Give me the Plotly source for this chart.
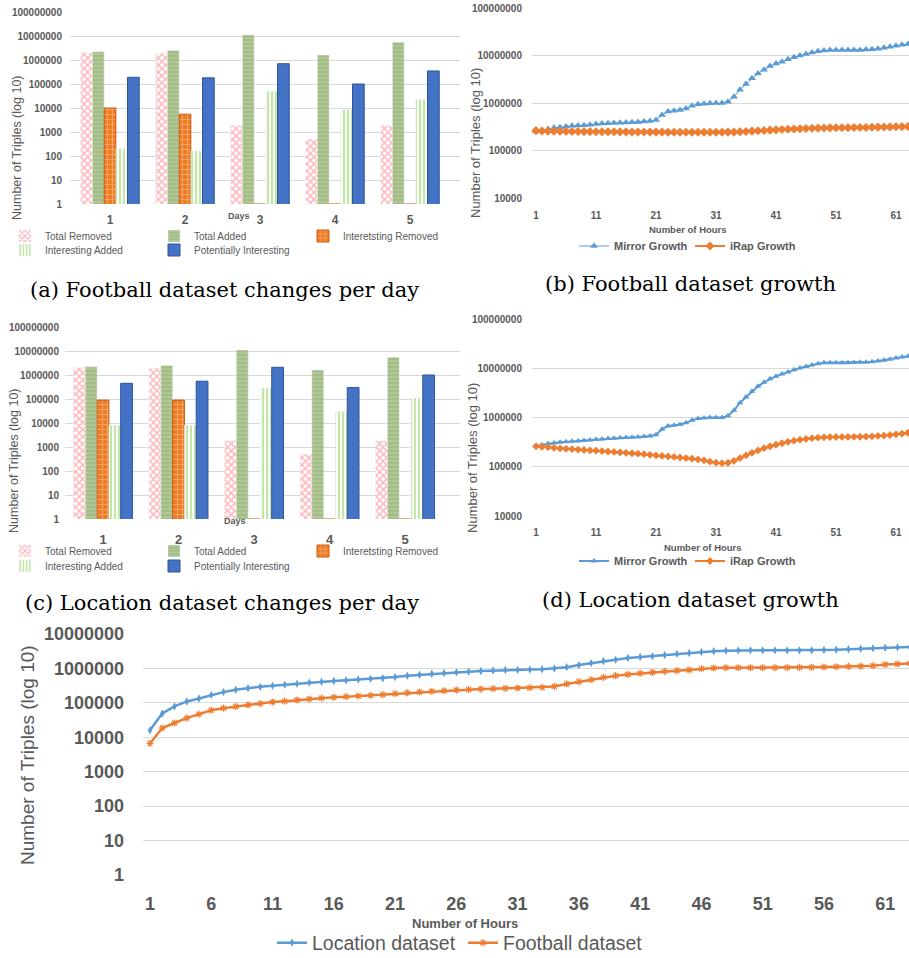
import plotly.graph_objects as go

W, H = 909, 958

def px(x):
    return x / W

def py(y):
    return 1 - y / H

# ---------------- data ----------------
days = [1, 2, 3, 4, 5]
bar_series = ["Total Removed", "Total Added", "Interetsting Removed", "Interesting Added", "Potentially Interesting"]

football_total_removed = [2000000, 1900000, 1800, 500, 1800]
football_total_added = [2200000, 2500000, 11000000, 1600000, 5500000]
football_interesting_removed = [10000, 5500, 1, 1, 1]
football_interesting_added = [200, 160, 50000, 8500, 22000]
football_potentially_interesting = [190000, 180000, 700000, 100000, 350000]

location_total_removed = [2000000, 1900000, 1800, 500, 1800]
location_total_added = [2200000, 2500000, 11000000, 1600000, 5500000]
location_interesting_removed = [90000, 90000, 1, 1, 1]
location_interesting_added = [8000, 8000, 280000, 30000, 110000]
location_potentially_interesting = [450000, 550000, 2100000, 300000, 1000000]

hours = list(range(1, 65))

football_mirror = [255e3, 270e3, 285e3, 300e3, 310e3, 320e3, 330e3, 335e3, 340e3, 350e3,
                   360e3, 370e3, 375e3, 380e3, 385e3, 390e3, 395e3, 400e3, 410e3, 420e3,
                   440e3, 560e3, 660e3, 690e3, 710e3, 770e3, 870e3, 940e3, 970e3, 990e3,
                   1.0e6, 1.0e6, 1.06e6, 1.35e6, 1.9e6, 2.5e6, 3.3e6, 4.2e6, 5.0e6, 6.0e6,
                   6.8e6, 7.4e6, 8.3e6, 9.2e6, 10.0e6, 10.8e6, 11.6e6, 12.3e6, 12.8e6, 13.0e6,
                   13.0e6, 13.0e6, 13.0e6, 13.0e6, 13.1e6, 13.3e6, 13.5e6, 13.8e6, 14.5e6, 15.2e6,
                   16.0e6, 16.8e6, 17.5e6, 18.2e6]
football_irap = [262e3, 258e3, 256e3, 255e3, 254e3, 253e3, 252e3, 251e3, 250e3, 250e3,
                 249e3, 249e3, 248e3, 248e3, 247e3, 247e3, 246e3, 246e3, 245e3, 245e3,
                 244e3, 244e3, 243e3, 243e3, 243e3, 242e3, 242e3, 242e3, 242e3, 242e3,
                 242e3, 243e3, 244e3, 246e3, 249e3, 252e3, 256e3, 260e3, 264e3, 268e3,
                 272e3, 276e3, 280e3, 284e3, 288e3, 291e3, 294e3, 296e3, 298e3, 300e3,
                 301e3, 302e3, 303e3, 304e3, 305e3, 306e3, 308e3, 310e3, 312e3, 314e3,
                 316e3, 318e3, 320e3, 322e3]

location_mirror = [265e3, 280e3, 295e3, 305e3, 315e3, 322e3, 330e3, 335e3, 342e3, 350e3,
                   360e3, 368e3, 375e3, 380e3, 386e3, 392e3, 398e3, 404e3, 412e3, 422e3,
                   445e3, 580e3, 670e3, 700e3, 720e3, 780e3, 880e3, 950e3, 980e3, 1.0e6,
                   1.0e6, 1.0e6, 1.08e6, 1.4e6, 2.0e6, 2.6e6, 3.4e6, 4.3e6, 5.2e6, 6.1e6,
                   6.9e6, 7.6e6, 8.4e6, 9.3e6, 10.1e6, 10.9e6, 11.7e6, 12.4e6, 12.9e6, 13.0e6,
                   13.0e6, 13.0e6, 13.0e6, 13.1e6, 13.2e6, 13.3e6, 13.6e6, 14.0e6, 14.6e6, 15.3e6,
                   16.1e6, 16.9e6, 17.6e6, 18.4e6]
location_irap = [260e3, 255e3, 250e3, 242e3, 236e3, 231e3, 227e3, 223e3, 219e3, 215e3,
                 212e3, 208e3, 204e3, 200e3, 196e3, 192e3, 188e3, 184e3, 180e3, 175e3,
                 170e3, 166e3, 162e3, 158e3, 154e3, 150e3, 146e3, 141e3, 135e3, 127e3,
                 121e3, 118e3, 120e3, 132e3, 150e3, 170e3, 192e3, 215e3, 238e3, 260e3,
                 280e3, 300e3, 320e3, 338e3, 355e3, 368e3, 380e3, 390e3, 396e3, 400e3,
                 402e3, 403e3, 404e3, 405e3, 407e3, 410e3, 415e3, 422e3, 430e3, 440e3,
                 455e3, 470e3, 490e3, 510e3]

location_dataset = [16e3, 49e3, 79e3, 110e3, 134e3, 170e3, 205e3, 240e3, 268e3, 292e3,
                    315e3, 338e3, 360e3, 388e3, 410e3, 432e3, 452e3, 475e3, 498e3, 520e3,
                    565e3, 615e3, 655e3, 700e3, 735e3, 770e3, 805e3, 840e3, 870e3, 900e3,
                    910e3, 925e3, 950e3, 1.0e6, 1.09e6, 1.25e6, 1.43e6, 1.64e6, 1.8e6, 2.0e6,
                    2.14e6, 2.25e6, 2.46e6, 2.65e6, 2.8e6, 3.0e6, 3.15e6, 3.28e6, 3.35e6, 3.35e6,
                    3.35e6, 3.35e6, 3.35e6, 3.35e6, 3.38e6, 3.42e6, 3.5e6, 3.6e6, 3.72e6, 3.85e6,
                    4.0e6, 4.1e6, 4.2e6, 4.3e6]
football_dataset = [6.6e3, 18.6e3, 26e3, 36e3, 47e3, 61e3, 70e3, 78e3, 87e3, 95e3,
                    106e3, 112e3, 121e3, 129e3, 137e3, 145e3, 151e3, 158e3, 165e3, 173e3,
                    185e3, 196e3, 207e3, 216e3, 225e3, 235e3, 243e3, 252e3, 258e3, 264e3,
                    270e3, 276e3, 282e3, 300e3, 355e3, 412e3, 470e3, 550e3, 615e3, 670e3,
                    720e3, 770e3, 820e3, 860e3, 905e3, 980e3, 1.03e6, 1.05e6, 1.05e6, 1.05e6,
                    1.05e6, 1.05e6, 1.06e6, 1.07e6, 1.08e6, 1.1e6, 1.12e6, 1.14e6, 1.16e6, 1.2e6,
                    1.3e6, 1.35e6, 1.4e6, 1.45e6]

log_ticks_bar = [1, 10, 100, 1000, 10000, 100000, 1000000, 10000000, 100000000]
log_labels_bar = ["1", "10", "100", "1000", "10000", "100000", "1000000", "10000000", "100000000"]
log_ticks_growth = [10000, 100000, 1000000, 10000000, 100000000]
log_labels_growth = ["10000", "100000", "1000000", "10000000", "100000000"]
log_ticks_total = [1, 10, 100, 1000, 10000, 100000, 1000000, 10000000]
log_labels_total = ["1", "10", "100", "1000", "10000", "100000", "1000000", "10000000"]
hour_ticks_small = [1, 11, 21, 31, 41, 51, 61]
hour_ticks_big = [1, 6, 11, 16, 21, 26, 31, 36, 41, 46, 51, 56, 61]

# ---------------- styles ----------------
GRAY = "#595959"
GRID = "#D9D9D9"
BLUE = "#5B9BD5"
ORANGE = "#ED7D31"
FONT = "Liberation Sans"
SERIF = "DejaVu Serif"

bar_styles = [
    dict(color="white", pattern=dict(shape="x", fgcolor="#FF6F7A", bgcolor="white", size=5, solidity=0.5)),
    dict(color="#A9C08C", pattern=dict(shape="-", fgcolor="#C9DAB2", bgcolor="#A3BC86", size=4, solidity=0.35)),
    dict(color="#ED7D31", pattern=dict(shape="+", fgcolor="#FBD5B5", bgcolor="#EE7A22", size=5, solidity=0.35),
         line=dict(color="#C55A11", width=1)),
    dict(color="white", pattern=dict(shape="|", fgcolor="#8CCB4E", bgcolor="white", size=4, solidity=0.55)),
    dict(color="#4472C4", line=dict(color="#2F5597", width=1)),
]

fig = go.Figure()

def add_bars(xa, ya, values, legends):
    for i, (name, vals) in enumerate(zip(bar_series, values)):
        fig.add_trace(go.Bar(
            x=days, y=vals, name=name, xaxis=xa, yaxis=ya,
            marker=bar_styles[i], legend=legends[0] if i < 3 else legends[1],
        ))

add_bars("x", "y", [football_total_removed, football_total_added, football_interesting_removed,
                    football_interesting_added, football_potentially_interesting], ["legend", "legend2"])
add_bars("x3", "y3", [location_total_removed, location_total_added, location_interesting_removed,
                      location_interesting_added, location_potentially_interesting], ["legend3", "legend4"])

# (b)
fig.add_trace(go.Scatter(x=hours, y=football_mirror, name="Mirror Growth", xaxis="x2", yaxis="y2",
                         mode="lines+markers", line=dict(color=BLUE, width=1),
                         marker=dict(symbol="triangle-up", size=7, color=BLUE), legend="legend5"))
fig.add_trace(go.Scatter(x=hours, y=football_irap, name="iRap Growth", xaxis="x2", yaxis="y2",
                         mode="lines+markers", line=dict(color=ORANGE, width=2),
                         marker=dict(symbol="diamond", size=7, color=ORANGE), legend="legend5"))
# (d)
fig.add_trace(go.Scatter(x=hours, y=location_mirror, name="Mirror Growth", xaxis="x4", yaxis="y4",
                         mode="lines+markers", line=dict(color=BLUE, width=2),
                         marker=dict(symbol="triangle-up", size=6, color=BLUE), legend="legend6"))
fig.add_trace(go.Scatter(x=hours, y=location_irap, name="iRap Growth", xaxis="x4", yaxis="y4",
                         mode="lines+markers", line=dict(color=ORANGE, width=2),
                         marker=dict(symbol="diamond", size=6, color=ORANGE), legend="legend6"))
# (e)
fig.add_trace(go.Scatter(x=hours, y=location_dataset, name="Location dataset", xaxis="x5", yaxis="y5",
                         mode="lines+markers", line=dict(color=BLUE, width=2.5),
                         marker=dict(symbol="diamond-tall", size=6, color=BLUE), legend="legend7"))
fig.add_trace(go.Scatter(x=hours, y=football_dataset, name="Football dataset", xaxis="x5", yaxis="y5",
                         mode="lines+markers", line=dict(color=ORANGE, width=2.5),
                         marker=dict(symbol="asterisk-open", size=6, color=ORANGE, line=dict(color=ORANGE, width=1.2)),
                         legend="legend7"))

def xax(dom, rng, tickvals, anchor, size, standoff):
    return dict(domain=dom, range=rng, tickvals=tickvals, anchor=anchor, showgrid=False,
                zeroline=False, showline=False, ticks="",
                tickfont=dict(family=FONT, size=size, color=GRAY, weight="bold"),
                ticklabelstandoff=standoff)

def yax(dom, rng, tickvals, ticktext, anchor, size, standoff):
    return dict(domain=dom, type="log", range=rng, tickvals=tickvals, ticktext=ticktext,
                anchor=anchor, showgrid=True, gridcolor=GRID, gridwidth=1, zeroline=False,
                showline=False, ticks="", tickfont=dict(family=FONT, size=size, color=GRAY, weight="bold"),
                ticklabelstandoff=standoff)

layout = dict(
    width=W, height=H, margin=dict(l=0, r=0, t=0, b=0, autoexpand=False),
    paper_bgcolor="white", plot_bgcolor="white",
    barmode="group", bargap=0.22, bargroupgap=0.0,
    font=dict(family=FONT, color=GRAY),
    xaxis=xax([px(70), px(460)], [0.467, 5.667], days, "y", 12, 7),
    yaxis=yax([py(204), py(12)], [0, 8], log_ticks_bar, log_labels_bar, "x", 10, 7),
    xaxis3=xax([px(65), px(460)], [0.497, 5.727], days, "y3", 13, 11),
    yaxis3=yax([py(519), py(327)], [0, 8], log_ticks_bar, log_labels_bar, "x3", 10, 5),
    xaxis2=xax([px(532), 1.0], [0.33, 63.17], hour_ticks_small, "y2", 10, 10),
    yaxis2=yax([py(198), py(8)], [4, 8], log_ticks_growth, log_labels_growth, "x2", 10, 9),
    xaxis4=xax([px(532), 1.0], [0.33, 63.17], hour_ticks_small, "y4", 10, 9),
    yaxis4=yax([py(516), py(319)], [4, 8], log_ticks_growth, log_labels_growth, "x4", 10, 9),
    xaxis5=xax([px(143), 1.0], [0.43, 62.94], hour_ticks_big, "y5", 18, 16),
    yaxis5=yax([py(875), py(634)], [0, 7], log_ticks_total, log_labels_total, "x5", 18, 18),
)

def leg(x, y, size, ew, bold=False):
    f = dict(family=FONT, size=size, color=GRAY)
    if bold:
        f["weight"] = "bold"
    d = dict(orientation="h", x=px(x), y=py(y), xanchor="left", yanchor="middle",
             bgcolor="rgba(0,0,0,0)", font=f, itemwidth=30, traceorder="normal")
    if ew:
        d["entrywidth"] = ew
        d["entrywidthmode"] = "pixels"
    return d

layout["legend"] = leg(5, 236, 10, 104)
layout["legend2"] = leg(5, 250, 10, 104)
layout["legend3"] = leg(5, 551, 10, 104)
layout["legend4"] = leg(5, 566, 10, 104)
layout["legend5"] = leg(574, 246, 11, 71, bold=True)
layout["legend6"] = leg(574, 561, 11, 71, bold=True)
layout["legend7"] = leg(272, 943, 19.5, 146)

fig.update_layout(**layout)

def ann(text, x, y, size, angle=0, family=FONT, color=GRAY, bold=True):
    fig.add_annotation(text=("<b>%s</b>" % text) if bold else text, x=px(x), y=py(y),
                       xref="paper", yref="paper", showarrow=False, textangle=angle,
                       xanchor="center", yanchor="middle",
                       font=dict(family=family, size=size, color=color))

ytitle = "Number of Triples (log 10)"
ann(ytitle, 17, 148, 12.5, -90, bold=False)
ann(ytitle, 14, 461, 12.5, -90, bold=False)
ann(ytitle, 475, 143, 13, -90, bold=False)
ann(ytitle, 473, 458, 13, -90, bold=False)
ann(ytitle, 27, 755, 19, -90, bold=False)

ann("Days", 239, 216, 9)
ann("Days", 235, 521, 9)
ann("Number of Hours", 688, 230, 9.5)
ann("Number of Hours", 703, 547, 9.5)
ann("Number of Hours", 465, 923, 13)

ann("(a) Football dataset changes per day", 224, 290, 21, family=SERIF, color="black", bold=False)
ann("(b) Football dataset growth", 690, 284, 21, family=SERIF, color="black", bold=False)
ann("(c) Location dataset changes per day", 222, 603, 21, family=SERIF, color="black", bold=False)
ann("(d) Location dataset growth", 690, 600, 21, family=SERIF, color="black", bold=False)

fig.write_html("out.html", config={"displayModeBar": False},
               post_script="document.body.style.margin='0px';")
